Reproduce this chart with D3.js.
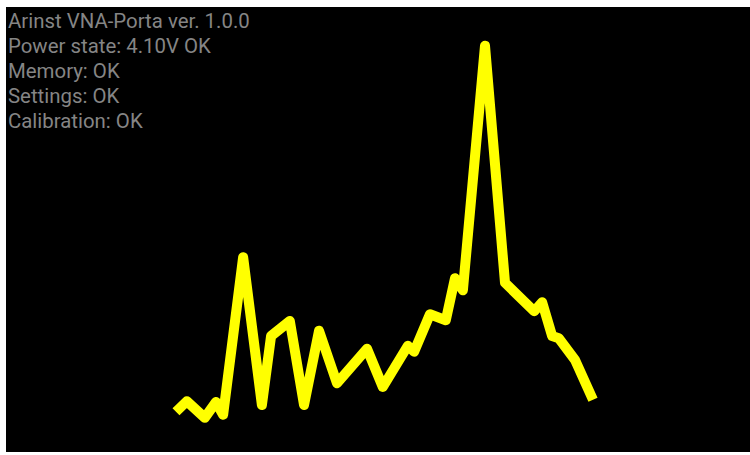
<!DOCTYPE html>
<meta charset="utf-8">
<head>
  <meta charset="utf-8">
  <title>VNA trace</title>
  <style>
    html, body { margin: 0; padding: 0; background: #fff; }
  </style>
</head>
<body>
<script src="https://cdn.jsdelivr.net/npm/d3@7"></script>
<script>

// status lines shown on the screen
var statusLines = [
  "Arinst VNA-Porta ver. 1.0.0",
  "Power state: 4.10V OK",
  "Memory: OK",
  "Settings: OK",
  "Calibration: OK"
];

// trace: frequency (MHz) and level (dB)
var freqs = [100.0, 102.6, 106.9, 109.6, 111.3, 116.1, 120.6, 122.8, 127.3, 130.7,
             134.3, 138.6, 145.8, 149.6, 155.6, 157.1, 160.9, 164.7, 166.9, 168.8,
             174.1, 178.9, 185.9, 187.8, 190.2, 191.8, 195.7, 200.0];
var levels = [-48.9, -47.5, -49.7, -47.6, -49.3, -28.3, -48.0, -38.8, -36.8, -48.0,
              -38.1, -45.1, -40.5, -45.6, -40.1, -40.9, -35.9, -36.7, -31.1, -32.7,
              -0.1, -31.7, -35.5, -34.3, -38.8, -39.1, -42.0, -47.3];

var width = 750, height = 455;

var svg = d3.select("body").append("svg")
    .attr("width", width)
    .attr("height", height)
    .style("display", "block");

// screen background
svg.append("rect")
    .attr("x", 6)
    .attr("y", 7)
    .attr("width", width - 6)
    .attr("height", 445)
    .attr("fill", "#000");

// set the ranges
var x = d3.scaleLinear()
    .domain([100, 200])
    .range([176, 593]);

var y = d3.scaleLinear()
    .domain([-50, 0])
    .range([420, 45]);

var data = freqs.map(function(f, i) { return {f: f, v: levels[i]}; });

var line = d3.line()
    .x(function(d) { return x(d.f); })
    .y(function(d) { return y(d.v); });

svg.append("path")
    .datum(data)
    .attr("d", line)
    .attr("fill", "none")
    .attr("stroke", "#ffff00")
    .attr("stroke-width", 10)
    .attr("stroke-linejoin", "round");

// status text
svg.selectAll(".status")
    .data(statusLines)
    .enter().append("text")
    .attr("class", "status")
    .attr("x", 8)
    .attr("y", function(d, i) { return 28 + i * 25; })
    .attr("fill", "#858585")
    .style("font-family", "Roboto")
    .style("font-size", "20.4px")
    .text(function(d) { return d; });

</script>
</body>
